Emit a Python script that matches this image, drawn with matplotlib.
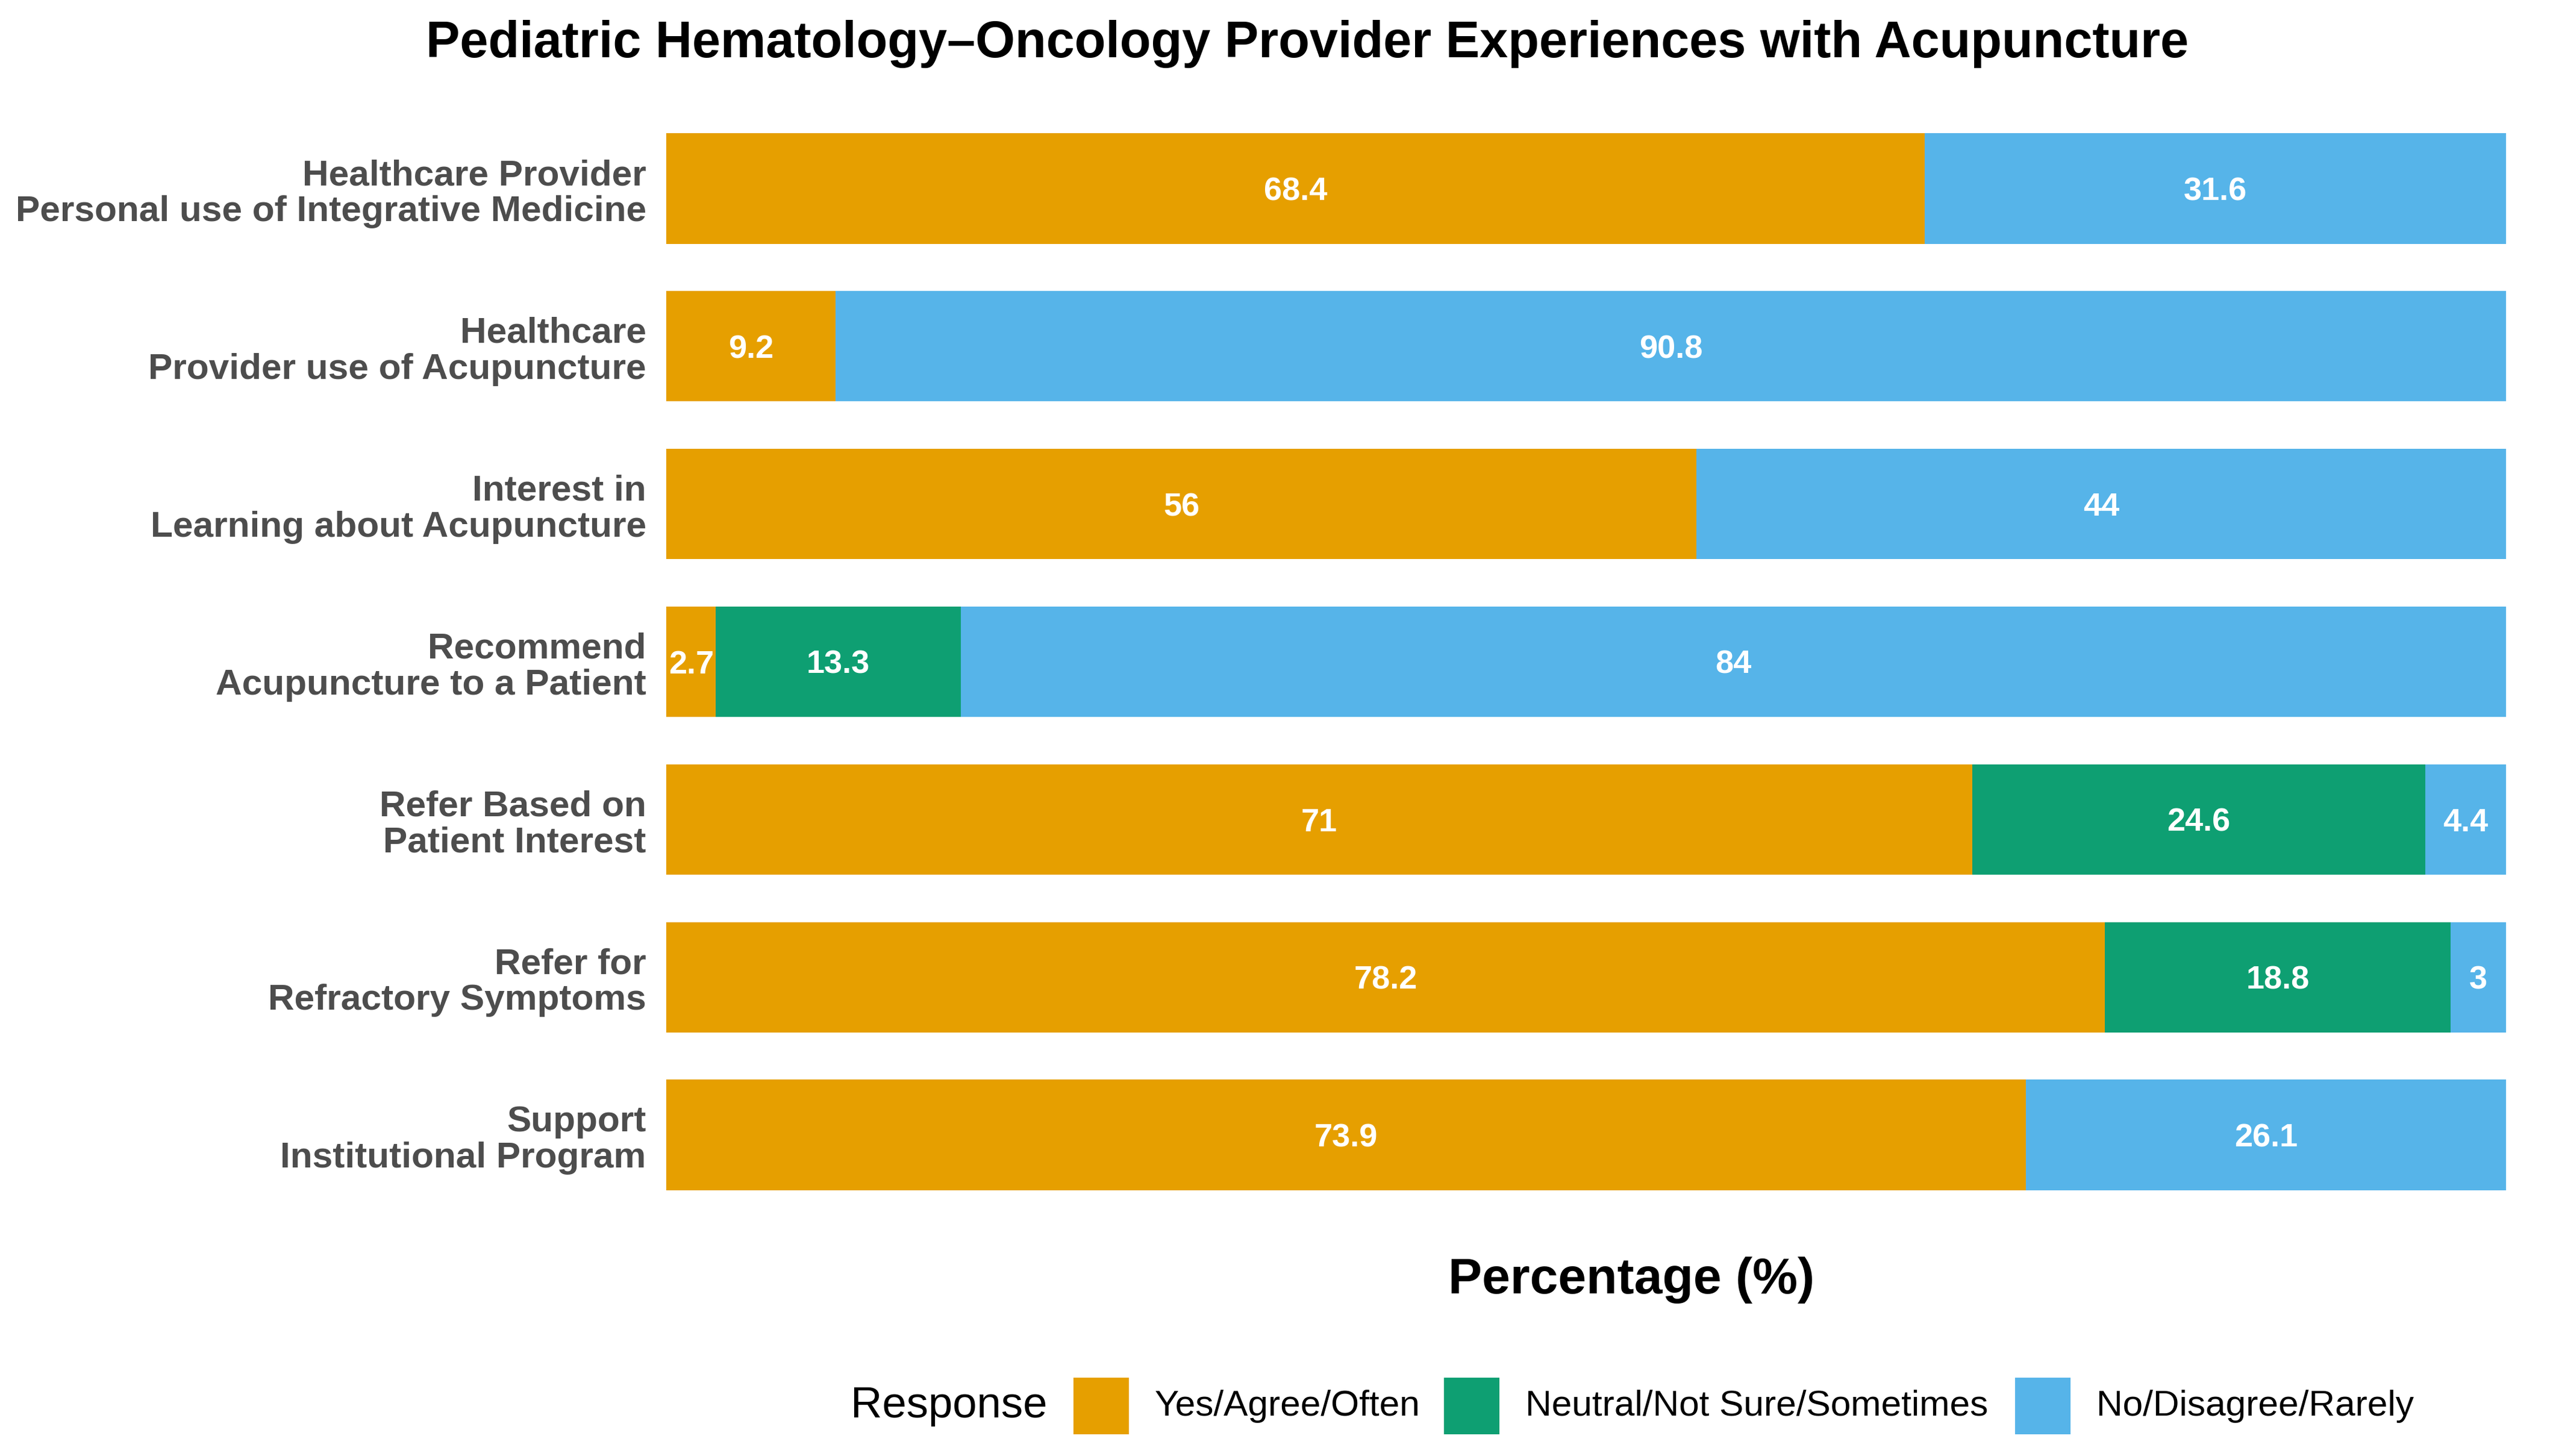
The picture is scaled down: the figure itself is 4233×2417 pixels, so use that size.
import numpy as np
import matplotlib.pyplot as plt

plt.rcParams['font.family'] = ['Liberation Sans', 'DejaVu Sans']

# Data (percent of respondents)
categories = [
    'Healthcare Provider\nPersonal use of Integrative Medicine',
    'Healthcare\nProvider use of Acupuncture',
    'Interest in\nLearning about Acupuncture',
    'Recommend\nAcupuncture to a Patient',
    'Refer Based on\nPatient Interest',
    'Refer for\nRefractory Symptoms',
    'Support\nInstitutional Program',
]
responses = ['Yes/Agree/Often', 'Neutral/Not Sure/Sometimes', 'No/Disagree/Rarely']
yes_vals = [68.4, 9.2, 56, 2.7, 71, 78.2, 73.9]
neutral_vals = [0, 0, 0, 13.3, 24.6, 18.8, 0]
no_vals = [31.6, 90.8, 44, 84, 4.4, 3, 26.1]
colors = ['#E69F00', '#0E9F72', '#56B4E9']

W, H = 4233, 2417
fig = plt.figure(figsize=(W / 300, H / 300), dpi=300)

# axes placement (pixels from the reference)
left, right = 1106, 4160
top_c, bot_c = 313, 1884        # centres of first / last bar
step = (bot_c - top_c) / 6
ax_top = top_c - 0.6 * step
ax_bot = bot_c + 0.6 * step
ax = fig.add_axes([left / W, 1 - ax_bot / H, (right - left) / W, (ax_bot - ax_top) / H])

y = np.arange(len(categories))
series = [yes_vals, neutral_vals, no_vals]
base = np.zeros(len(categories))
for vals, col, name in zip(series, colors, responses):
    vals = np.array(vals, dtype=float)
    ax.barh(y, vals, left=base, height=0.7, color=col, label=name, linewidth=0)
    for yi, b, v in zip(y, base, vals):
        if v > 0:
            ax.text(b + v / 2, yi, f'{v:g}', ha='center', va='center_baseline', color='white',
                    fontsize=13, fontweight='bold')
    base += vals

ax.set_xlim(0, 100)
ax.set_ylim(len(categories) - 0.4, -0.6)
ax.set_yticks(y)
ax.set_yticklabels(categories, fontsize=14.5, fontweight='bold', color='#4D4D4D',
                   linespacing=1.12)
ax.tick_params(axis='y', length=0, pad=8)
ax.set_xticks([])
for s in ax.spines.values():
    s.set_visible(False)

fig.text(2170 / W, 1 - 73 / H, 'Pediatric Hematology\u2013Oncology Provider Experiences with Acupuncture',
         ha='center', va='center', fontsize=20.3, fontweight='bold', color='black')
fig.text(2708 / W, 1 - 2125 / H, 'Percentage (%)', ha='center', va='center',
         fontsize=20.2, fontweight='bold', color='black')

# legend row
ly = 1 - 2334 / H
fig.text(1412 / W, ly, 'Response', ha='left', va='center', fontsize=17.4)
key_x = [1782, 2397, 3345]
txt_x = [1917, 2532, 3480]
kw, kh = 92, 94
for kx, tx, col, name in zip(key_x, txt_x, colors, responses):
    fig.patches.append(plt.Rectangle((kx / W, ly - kh / 2 / H), kw / W, kh / H,
                                     transform=fig.transFigure, color=col, linewidth=0))
    fig.text(tx / W, ly, name, ha='left', va='center', fontsize=14.5)

fig.savefig('out.png', dpi=300, facecolor='white')
